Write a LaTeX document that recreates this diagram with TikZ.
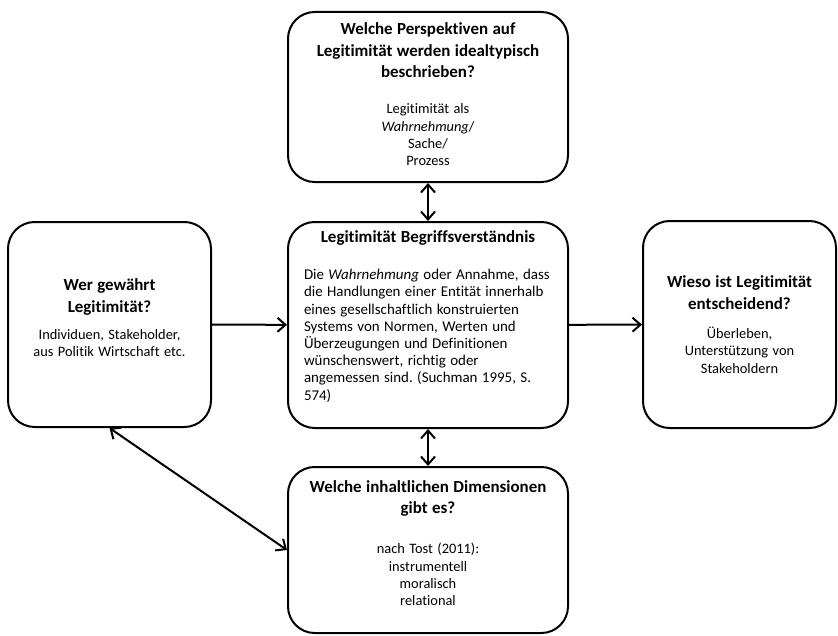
\documentclass[tikz,border=0pt]{standalone}
\usepackage{fontspec}
\setmainfont{Carlito}[Ligatures={NoCommon}]
\usepackage{tikz}
\usetikzlibrary{arrows.meta}

\newcommand{\titelschrift}{\fontsize{12.7}{16.1}\selectfont\bfseries}
\newcommand{\inhaltschrift}{\fontsize{10.8}{13}\selectfont}
\newcommand{\luft}[1]{\par\nointerlineskip\vspace{#1}\null}
\frenchspacing

\begin{document}
\begin{tikzpicture}[x=0.75pt, y=-0.75pt,
            box/.style={draw, line width=1.5pt, rounded corners=20pt, inner sep=0pt, align=center},
            pfeil/.style={line width=1.5pt, >={Straight Barb[length=6pt, width=10.5pt, line width=1.5pt]}}]
            \useasboundingbox (0,0) rectangle (838,635);

            \node[box, minimum width=210pt, minimum height=127.5pt, text width=190pt] (oben) at (428,97)
                {{\titelschrift Welche Perspektiven auf\\ Legitimität werden idealtypisch\\ beschrieben?\par}\vspace{14pt}
                 {\inhaltschrift Legitimität als\\ \textit{Wahrnehmung}/\\ Sache/\\ Prozess\par}\luft{4pt}};
            \node[box, minimum width=210pt, minimum height=154.5pt, text width=186pt] (mitte) at (428,325)
                {{\titelschrift Legitimität Begriffsverständnis\par}\vspace{15pt}
                 {\fontsize{11.2}{12.9}\selectfont\raggedright Die \textit{Wahrnehmung} oder Annahme, dass\\ die Handlungen einer Entität innerhalb\\ eines gesellschaftlich konstruierten\\ Systems von Normen, Werten und\\ Überzeugungen und Definitionen\\ wünschenswert, richtig oder\\ angemessen sind. (Suchman 1995, S.\\ 574)\par}\luft{13pt}};
            \node[box, minimum width=210pt, minimum height=124.5pt, text width=190pt] (unten) at (428,550)
                {{\titelschrift Welche inhaltlichen Dimensionen\\ gibt es?\par}\vspace{17pt}
                 {\inhaltschrift nach Tost (2011):\\ instrumentell\\ moralisch\\ relational\par}\luft{10pt}};
            \node[box, minimum width=152.25pt, minimum height=153.75pt, text width=140pt] (links) at (109.5,324.5)
                {{\titelschrift Wer gewährt\\ Legitimität?\par}\vspace{7pt}
                 {\inhaltschrift Individuen, Stakeholder,\\ aus Politik Wirtschaft etc.\par}\luft{10pt}};
            \node[box, minimum width=144.75pt, minimum height=155.25pt, text width=135pt] (rechts) at (739.5,324.5)
                {{\titelschrift Wieso ist Legitimität\\ entscheidend?\par}\vspace{9pt}
                 {\inhaltschrift Überleben,\\ Unterstützung von\\ Stakeholdern\par}};

            \draw[pfeil, <->] (oben) -- (mitte);
            \draw[pfeil, <->] (mitte) -- (unten);
            \draw[pfeil, ->] (links) -- (mitte);
            \draw[pfeil, ->] (mitte) -- (rechts);
            \draw[pfeil, <->] (links.south) -- (unten.west);
        \end{tikzpicture}
\end{document}
